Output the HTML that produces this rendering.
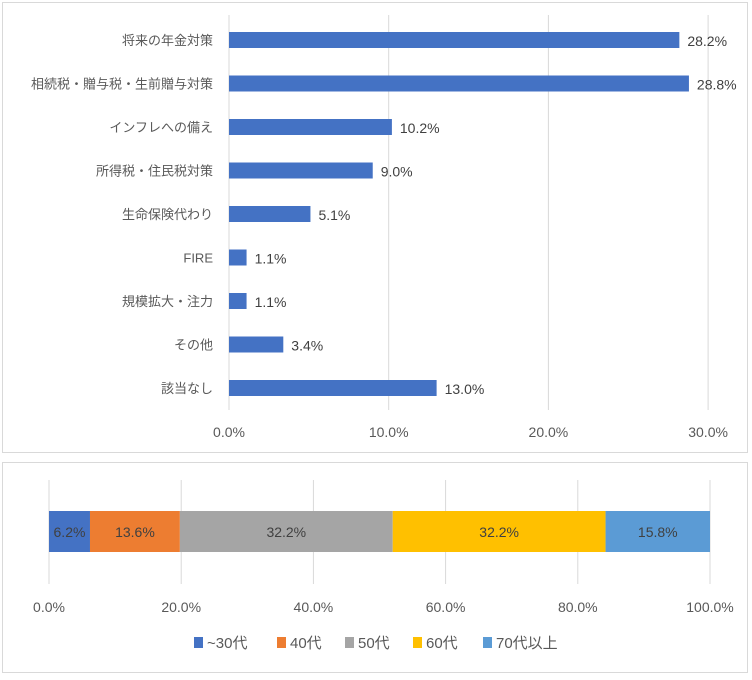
<!DOCTYPE html>
<html><head><meta charset="utf-8"><style>
body{margin:0;background:#fff;font-family:"Liberation Sans","Noto Sans CJK JP",sans-serif;}
svg text{font-family:"Liberation Sans","Noto Sans CJK JP",sans-serif;}
</style></head><body>
<svg id="c" width="752" height="675" xmlns="http://www.w3.org/2000/svg">
<rect x="2.5" y="2.5" width="745" height="450" fill="#fff" stroke="#d9d9d9"/>
<rect x="2.5" y="462.5" width="745" height="210" fill="#fff" stroke="#d9d9d9"/>
<g id="topg"></g><g id="botg"></g>
</svg>
<script>
const categories=["将来の年金対策","相続税・贈与税・生前贈与対策","インフレへの備え","所得税・住民税対策","生命保険代わり","FIRE","規模拡大・注力","その他","該当なし"];
const values=[28.2,28.8,10.2,9.0,5.1,1.1,1.1,3.4,13.0];
const topTicks=[0,10,20,30];
const ageLabels=["~30代","40代","50代","60代","70代以上"];
const ageValues=[6.2,13.6,32.2,32.2,15.8];
const ageColors=["#4472c4","#ed7d31","#a5a5a5","#ffc000","#5b9bd5"];
const botTicks=[0,20,40,60,80,100];

const NS="http://www.w3.org/2000/svg";
function mk(p,t,a,txt){const e=document.createElementNS(NS,t);for(const k in a)e.setAttribute(k,a[k]);if(txt!=null)e.textContent=txt;p.appendChild(e);return e;}
const gTop=document.getElementById('topg'),gBot=document.getElementById('botg');
const xT=v=>229+v*15.97;
const yT=i=>40+i*43.5;
topTicks.forEach(t=>{
  const l=mk(gTop,'line',{x1:xT(t),x2:xT(t),y1:15,y2:410,stroke:'#d9d9d9'});
  
  
  const tx=mk(gTop,'text',{x:xT(t),y:437,'text-anchor':'middle','font-size':14,fill:'#595959'},t.toFixed(1)+'%');
  
  
});
categories.forEach((c,i)=>{
  const y=yT(i);
  const lb=mk(gTop,'text',{x:213,y:y+5,'text-anchor':'end','font-size':13,fill:'#595959'},c);
  
  
  const b=mk(gTop,'rect',{x:xT(0),y:y-8,width:xT(values[i])-xT(0),height:16,fill:'#4472c4'});
  
  
  const v=mk(gTop,'text',{x:xT(values[i])+8,y:y+6,'font-size':14,fill:'#404040'},values[i].toFixed(1)+'%');
  
  
});
const xB=v=>49+v*6.61;
botTicks.forEach(t=>{
  const l=mk(gBot,'line',{x1:xB(t),x2:xB(t),y1:480,y2:584,stroke:'#d9d9d9'});
  
  
  const tx=mk(gBot,'text',{x:xB(t),y:612,'text-anchor':'middle','font-size':14,fill:'#595959'},t.toFixed(1)+'%');
  
  
});
let acc=0;
ageValues.forEach((v,i)=>{
  const r=mk(gBot,'rect',{x:xB(acc),y:511,width:xB(acc+v)-xB(acc),height:41,fill:ageColors[i]});
  
  
  const t=mk(gBot,'text',{x:(xB(acc)+xB(acc+v))/2,y:537,'text-anchor':'middle','font-size':14,fill:'#404040'},v.toFixed(1)+'%');
  
  
  acc+=v;
});
const lx=[194,277,345,413,483];
ageLabels.forEach((a,i)=>{
  const g=mk(gBot,'g',{});
  
  
  mk(g,'rect',{x:lx[i],y:637,width:9,height:11,fill:ageColors[i]});
  mk(g,'text',{x:lx[i]+13,y:648,'font-size':15,fill:'#595959'},a);
});
</script>
</body></html>
